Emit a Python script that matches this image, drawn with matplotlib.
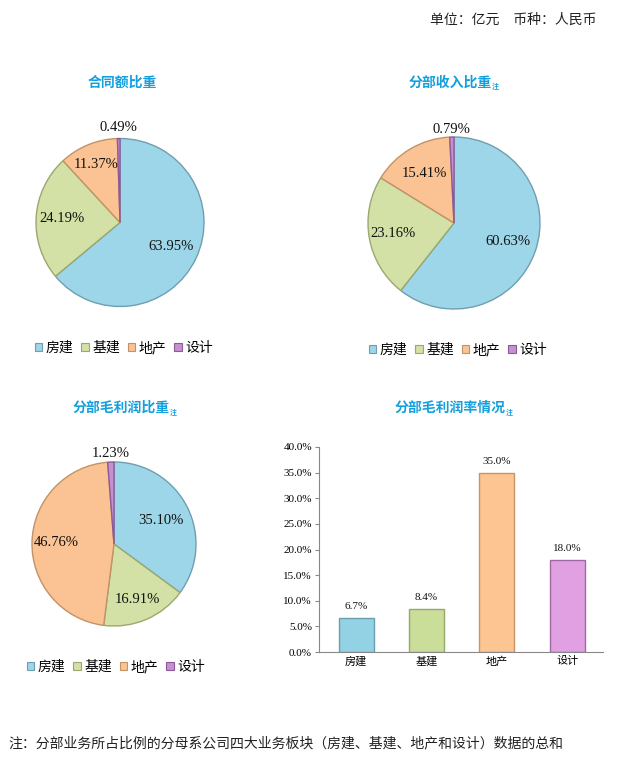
import numpy as np
import matplotlib
matplotlib.use("Agg")
from matplotlib import pyplot as plt
from matplotlib.patches import Patch

plt.rcParams['font.family'] = ['Noto Sans CJK SC', 'DejaVu Sans']

# data
cats = ['房建', '基建', '地产', '设计']
contract_share = [63.95, 24.19, 11.37, 0.49]
revenue_share = [60.63, 23.16, 15.41, 0.79]
profit_share = [35.10, 16.91, 46.76, 1.23]
margin = [6.7, 8.4, 35.0, 18.0]
yticks = [0, 5, 10, 15, 20, 25, 30, 35, 40]

# colours
pie_cols = ['#9dd6e8', '#d3e0a6', '#fbc393', '#c690d2']
pie_edges = ['#6f9fae', '#9aa870', '#c39266', '#8d5a99']
bar_cols = ['#93d2e4', '#cadd99', '#fcc592', '#e0a0e2']
bar_edges = ['#6a9fae', '#94a86a', '#c89466', '#a06aa4']
title_col = '#14a0dc'
serif = ['Liberation Serif', 'DejaVu Serif']

W, H = 623, 766
fig = plt.figure(figsize=(W / 100, H / 100), dpi=100)
fig.patch.set_facecolor('white')


def draw_pie(cx, cy, r, vals, dists, L=1.4):
    S = 2 * L * r
    ax = fig.add_axes([(cx - S / 2) / W, (H - cy - S / 2) / H, S / W, S / H])
    wedges, _ = ax.pie(vals, colors=pie_cols, startangle=90, counterclock=False,
                       wedgeprops=dict(linewidth=1.0))
    # pie() resets the limits, so set them afterwards
    ax.set_xlim(-L, L)
    ax.set_ylim(-L, L)
    ax.set_aspect('equal')
    ax.axis('off')
    for w, ec, v, d in zip(wedges, pie_edges, vals, dists):
        w.set_edgecolor(ec)
        th = np.deg2rad((w.theta1 + w.theta2) / 2)
        ax.text(d * np.cos(th), d * np.sin(th), '%.2f%%' % v, ha='center', va='center',
                fontsize=10.5, family=serif, color='#111111')
    return ax


def title(x, y, main, note=True):
    t = fig.text(x / W, 1 - y / H, main, ha='center', va='center', fontsize=10,
                 fontweight='bold', color=title_col)
    if note:
        fig.canvas.draw()
        bb = t.get_window_extent()
        fig.text(bb.x1 / W + 0.5 / W, 1 - (y + 4) / H, '注', ha='left', va='center',
                 fontsize=5, fontweight='bold', color=title_col)


def legend(x, y):
    handles = [Patch(facecolor=c, edgecolor=e, linewidth=0.8) for c, e in zip(pie_cols, pie_edges)]
    fig.legend(handles, cats, loc='center', bbox_to_anchor=(x / W, 1 - y / H), ncol=4,
               frameon=False, fontsize=10, handlelength=0.55, handleheight=0.55,
               handletextpad=0.25, columnspacing=0.55, borderpad=0)


# top note
fig.text(597 / W, 1 - 20 / H, '单位：亿元　币种：人民币', ha='right', va='center', fontsize=10,
         color='#222222')

# pies
draw_pie(120, 222.5, 84, contract_share, [0.67, 0.69, 0.74, 1.13])
title(122, 83, '合同额比重', note=False)
legend(124, 348)

draw_pie(454, 223, 86, revenue_share, [0.67, 0.72, 0.67, 1.09])
title(450, 83, '分部收入比重')
legend(458, 350)

draw_pie(114, 544, 82, profit_share, [0.64, 0.73, 0.70, 1.11])
title(121, 408, '分部毛利润比重')
legend(116, 667)

# bar chart
left, right, top, bottom = 319, 603, 447, 652
ax = fig.add_axes([left / W, 1 - bottom / H, (right - left) / W, (bottom - top) / H])
x = np.arange(len(cats))
ax.bar(x, margin, width=0.5, color=bar_cols, edgecolor=bar_edges, linewidth=1.0)
for xi, v in zip(x, margin):
    ax.text(xi, v + 1.3, '%.1f%%' % v, ha='center', va='bottom', fontsize=8, family=serif,
            color='#111111')
ax.set_xlim(-0.53, 3.51)
ax.set_ylim(0, 40)
ax.set_yticks(yticks)
ax.set_yticklabels(['%.1f%%' % t for t in yticks], family=serif, fontsize=8)
ax.set_xticks(x)
ax.set_xticklabels(cats, fontsize=8)
ax.tick_params(axis='x', length=0, pad=3)
ax.tick_params(axis='y', length=3, width=0.8, color='#888888', pad=2)
for s in ['top', 'right']:
    ax.spines[s].set_visible(False)
for s in ['left', 'bottom']:
    ax.spines[s].set_color('#888888')
    ax.spines[s].set_linewidth(0.8)
title(450, 408, '分部毛利润率情况')

# footer
fig.text(8 / W, 1 - 743 / H, '注：分部业务所占比例的分母系公司四大业务板块（房建、基建、地产和设计）数据的总和',
         ha='left', va='center', fontsize=10, color='#222222')

fig.savefig('out.png', dpi=100, facecolor='white')
